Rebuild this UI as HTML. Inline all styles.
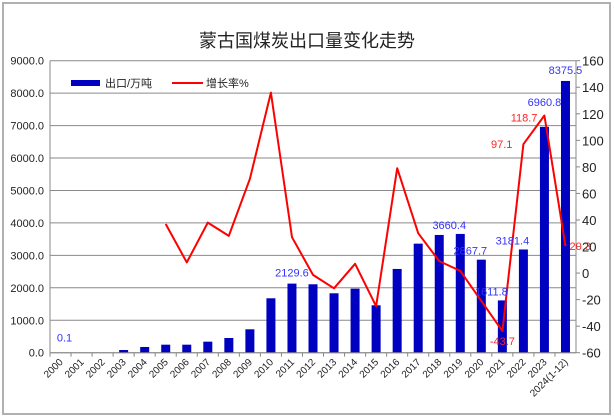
<!DOCTYPE html>
<html><head><meta charset="utf-8"><style>
body{margin:0;background:#fff;}
svg{display:block;font-family:"Liberation Sans","Noto Sans CJK SC",sans-serif;}
</style></head><body>
<svg id="chart" width="614" height="417">
<rect x="3" y="3" width="607" height="411" fill="#fff" stroke="#b0b0b0" stroke-width="2"/>
<text x="307" y="47" text-anchor="middle" font-size="18" fill="#222">蒙古国煤炭出口量变化走势</text>
<g id="grid"></g><g id="bars"></g><g id="line"></g><g id="axes"></g><g id="labels"></g>
<g>
<rect x="71" y="80" width="29" height="6" fill="#0000c0"/>
<text x="105" y="87" font-size="11" fill="#222">出口/万吨</text>
<line x1="172" y1="83" x2="203" y2="83" stroke="#ff0000" stroke-width="2"/>
<text x="206" y="87" font-size="11" fill="#222">增长率%</text>
</g>
</svg>
<script>
const categories=["2000","2001","2002","2003","2004","2005","2006","2007","2008","2009","2010","2011","2012","2013","2014","2015","2016","2017","2018","2019","2020","2021","2022","2023","2024(1-12)"];
const exports=[0.1,0,0,83,176,247,247,340,453,721,1677,2129.6,2109,1831,1974,1461,2581,3361,3629,3660.4,2867.7,1611.8,3181.4,6960.8,8375.5];
const growth=[null,null,null,null,null,37,8,38,28,71,136,27,-1.4,-11.5,7,-25,79,30,9,1.6,-21,-43.7,97.1,118.7,20.3];
const leftTicks=[0,1000,2000,3000,4000,5000,6000,7000,8000,9000];
const rightTicks=[-60,-40,-20,0,20,40,60,80,100,120,140,160];
const barLabelIdx=[0,11,19,20,21,22,23,24];
const lineLabelIdx=[21,22,23,24];

const NS="http://www.w3.org/2000/svg";
const X0=50,X1=576,Y0=60.7,Y1=352.7;
const step=(X1-X0)/categories.length;
const xc=i=>X0+(i+0.5)*step;
const yL=v=>Y1-(v-0)/9000*(Y1-Y0);
const yR=v=>Y1-(v+60)/220*(Y1-Y0);
function mk(tag,attrs,parent,txt){const e=document.createElementNS(NS,tag);for(const k in attrs)e.setAttribute(k,attrs[k]);if(txt!==undefined)e.textContent=txt;document.getElementById(parent).appendChild(e);return e;}

leftTicks.forEach(t=>{
 const l=mk('line',{x1:X0,x2:X1,y1:yL(t),y2:yL(t),stroke:'#8a8a8a','stroke-width':1},'grid');
 
 
 const tx=mk('text',{x:X0-6,y:yL(t)+4,'text-anchor':'end','font-size':11,fill:'#222'},'axes',t.toFixed(1));
 
 
});
rightTicks.forEach(t=>{
 const tx=mk('text',{x:X1+6,y:yR(t)+5,'font-size':13,fill:'#222'},'axes',String(t));
 
 
 const tk=mk('line',{x1:X1,x2:X1+4,y1:yR(t),y2:yR(t),stroke:'#888'},'axes');
 
 
});
let ax=mk('line',{x1:X0,x2:X0,y1:Y0,y2:Y1,stroke:'#888'},'axes');


ax=mk('line',{x1:X1,x2:X1,y1:Y0,y2:Y1,stroke:'#888'},'axes');


ax=mk('line',{x1:X0,x2:X1,y1:Y1,y2:Y1,stroke:'#888'},'axes');



categories.forEach((c,i)=>{
 const v=exports[i];
 if(v>0){const b=mk('rect',{x:xc(i)-4.5,y:yL(v),width:9,height:Y1-yL(v),fill:'#0000c0'},'bars');
 
 }
 const tk=mk('line',{x1:X0+i*step,x2:X0+i*step,y1:Y1,y2:Y1+4,stroke:'#888'},'axes');
 
 
 const x=xc(i)+3,y=Y1+10;
 const t=mk('text',{x:x,y:y,'text-anchor':'end','font-size':10,fill:'#222',transform:`rotate(-45 ${x} ${y})`},'axes',c);
 
 
});

let d='';
growth.forEach((g,i)=>{if(g===null)return;d+=(d?'L':'M')+xc(i).toFixed(1)+' '+yR(g).toFixed(1);});
const p=mk('path',{d:d,fill:'none',stroke:'#ff0000','stroke-width':2,'stroke-linejoin':'round'},'line');



function barOff(i){
 if(i===0)return [4,-11];
 if(i===11)return [0,-7];
 if(i===23)return [0,-21];
 if(i===24)return [0,-7];
 return [-11,-5];
}
barLabelIdx.forEach(i=>{
 const o=barOff(i);
 const t=mk('text',{x:xc(i)+o[0],y:yL(exports[i])+o[1],'text-anchor':'middle','font-size':11,fill:'#3333ff'},'labels',exports[i].toFixed(1));
 
 
});
lineLabelIdx.forEach(i=>{
 const off=i===21?{dx:0,dy:14,a:'middle'}:i===24?{dx:4,dy:4,a:'start'}:i===22?{dx:-11,dy:4,a:'end'}:{dx:-7,dy:6,a:'end'};
 const t=mk('text',{x:xc(i)+off.dx,y:yR(growth[i])+off.dy,'text-anchor':off.a,'font-size':11,fill:'#ff2222'},'labels',growth[i].toFixed(1));
 
 
});
</script>
</body></html>
